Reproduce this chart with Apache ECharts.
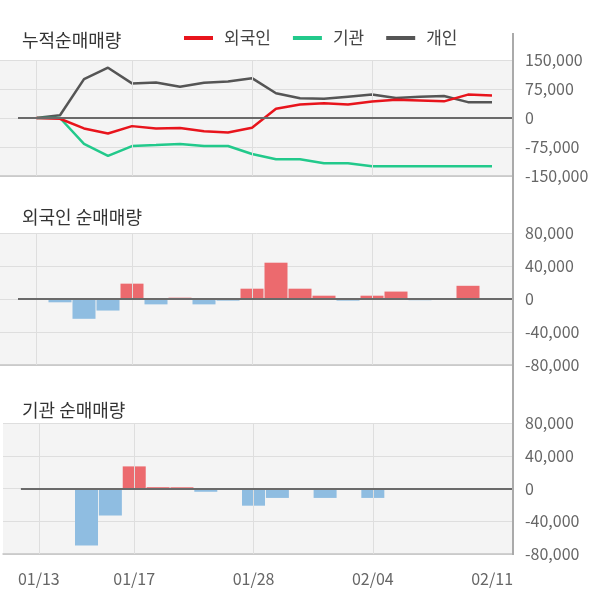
<!DOCTYPE html>
<html>
<head>
<meta charset="utf-8">
<script src="https://cdn.jsdelivr.net/npm/echarts@6/dist/echarts.min.js"></script>
<style>
html,body{margin:0;padding:0;background:#fff;}
#chart{width:600px;height:604px;}
</style>
</head>
<body>
<div id="chart"></div>
<script>
// ---- data ----
var categories = ['01/13','01/14','01/15','01/16','01/17','01/20','01/21','01/22','01/23','01/28',
                  '01/29','01/30','01/31','02/03','02/04','02/05','02/06','02/07','02/10','02/11'];
var labelIndexes = [0, 4, 9, 14, 19];
var gridIndexes = [0, 4, 9, 14];

var cumForeign = [0, -2000, -27000, -40000, -21000, -27000, -26000, -34000, -37500, -25000,
                  24000, 35000, 38000, 35000, 42500, 47000, 45000, 43000, 60500, 58000];
var cumInst = [0, 0, -67000, -98000, -72500, -70000, -67000, -72500, -72500, -93000,
               -106500, -106500, -117000, -117000, -125000, -125000, -125000, -125000, -125000, -125000];
var cumIndiv = [0, 7000, 100500, 130000, 89500, 92000, 81000, 91000, 94500, 103000,
                64000, 51000, 49500, 55000, 60500, 52000, 55000, 57000, 41000, 41000];

var foreignNet = [0, -4000, -24000, -14000, 18600, -6500, 1600, -6500, -2000, 12500,
                  44000, 12500, 4000, -2000, 4000, 9000, -1500, 0, 16000, 0];
var instNet = [0, 0, -69500, -33000, 27000, 1600, 1500, -4000, 0, -21000,
               -11500, 0, -11500, 0, -11500, 0, 0, 0, 0, 0];

var topTicks = {min: -150000, max: 150000, interval: 75000};
var barTicks = {min: -80000, max: 80000, interval: 40000};

var titles = ['누적순매매량', '외국인 순매매량', '기관 순매매량'];
var seriesNames = ['외국인', '기관', '개인'];
var lineColors = ['#e8141c', '#22c98b', '#555555'];
var posColor = '#ec6a6e', negColor = '#8fbde1';

// ---- helpers ----
function pairs(arr) { return arr.map(function (v, i) { return [i, v]; }); }
function nonZeroPairs(arr) {
  var out = [];
  arr.forEach(function (v, i) { if (v !== 0) out.push([i, v]); });
  return out;
}
var FONT = '"Noto Sans CJK KR", "Noto Sans", sans-serif';

var grids = [
  {left: 0, right: 87, top: 60, height: 116},
  {left: 0, right: 87, top: 233, height: 132},
  {left: 0, right: 87, top: 423, height: 131}
].map(function (g) {
  g.show = true; g.backgroundColor = '#f4f4f4'; g.borderWidth = 0; return g;
});

var xAxes = [0, 1, 2].map(function (gi) {
  return {
    type: 'value', gridIndex: gi, min: -1.5, max: 19.875, interval: 0.5,
    splitLine: {show: false}, axisTick: {show: false},
    axisLine: {show: true, onZero: false, lineStyle: {color: '#c4c4c4', width: 1.5}},
    axisLabel: {
      show: gi === 2, color: '#666', fontSize: 16, fontFamily: FONT, margin: 17,
      showMinLabel: true, showMaxLabel: true,
      formatter: function (v) {
        var i = Math.round(v);
        if (Math.abs(v - i) < 1e-9 && labelIndexes.indexOf(i) >= 0) return categories[i];
        return '';
      }
    }
  };
});

var yAxes = [0, 1, 2].map(function (gi) {
  var t = gi === 0 ? topTicks : barTicks;
  return {
    type: 'value', gridIndex: gi, position: 'right', min: t.min, max: t.max, interval: t.interval,
    axisLine: {show: false}, axisTick: {show: false},
    splitLine: {show: true, lineStyle: {color: '#dedede', width: 1}},
    axisLabel: {
      color: '#666', fontSize: 16, fontFamily: FONT, margin: 12,
      formatter: function (v) { return v.toLocaleString('en-US'); }
    }
  };
});

var series = [];
[0, 1, 2].forEach(function (gi) {
  // vertical grid lines (drawn beneath data)
  series.push({
    type: 'line', xAxisIndex: gi, yAxisIndex: gi, data: [], z: 1, silent: true,
    markLine: {
      silent: true, symbol: 'none', label: {show: false}, animation: false,
      lineStyle: {color: '#dedede', width: 1, type: 'solid'},
      data: gridIndexes.map(function (i) { return {xAxis: i}; })
    }
  });
  // zero line
  series.push({
    type: 'line', xAxisIndex: gi, yAxisIndex: gi, data: [], z: 1, silent: true,
    markLine: {
      silent: true, symbol: 'none', label: {show: false}, animation: false, z: 10,
      lineStyle: {color: '#6a6a6a', width: 2, type: 'solid'},
      data: [[{coord: [-0.75, 0]}, {coord: [19.875, 0]}]]
    }
  });
});

[cumForeign, cumInst, cumIndiv].forEach(function (arr, k) {
  series.push({
    name: seriesNames[k], type: 'line', xAxisIndex: 0, yAxisIndex: 0,
    data: pairs(arr), symbol: 'none', smooth: false, z: 3 + (k === 0 ? 2 : (k === 1 ? 1 : 0)),
    lineStyle: {color: lineColors[k], width: 2.5}, itemStyle: {color: lineColors[k]},
    animation: false
  });
});

[foreignNet, instNet].forEach(function (arr, k) {
  series.push({
    type: 'bar', xAxisIndex: k + 1, yAxisIndex: k + 1, data: nonZeroPairs(arr),
    barWidth: 23, z: 2, animation: false,
    itemStyle: {
      color: function (p) { return p.value[1] >= 0 ? posColor : negColor; }
    }
  });
});

var option = {
  animation: false,
  textStyle: {fontFamily: FONT},
  title: [
    {text: titles[0], left: 22, top: 30},
    {text: titles[1], left: 22, top: 207},
    {text: titles[2], left: 22, top: 400}
  ].map(function (t) {
    t.padding = 0;
    t.textStyle = {fontSize: 18, fontWeight: 'normal', color: '#333', fontFamily: FONT, lineHeight: 20};
    return t;
  }),
  legend: {
    data: seriesNames, left: 184, top: 28, padding: 0, itemGap: 22,
    itemWidth: 29, itemHeight: 4, icon: 'rect',
    textStyle: {fontSize: 17, color: '#444', fontFamily: FONT, lineHeight: 20, padding: [0, 0, 0, 6]}
  },
  grid: grids,
  xAxis: xAxes,
  yAxis: yAxes,
  series: series,
  graphic: [{
    type: 'line', z: 100, silent: true,
    shape: {x1: 513, y1: 33, x2: 513, y2: 555},
    style: {stroke: '#aaaaaa', lineWidth: 2}
  }]
};

var chart = echarts.init(document.getElementById('chart'), null, {renderer: 'canvas'});
chart.setOption(option);
</script>
</body>
</html>
